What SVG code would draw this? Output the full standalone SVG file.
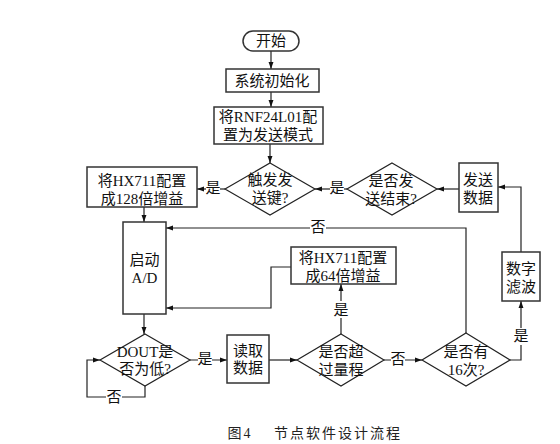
<svg xmlns="http://www.w3.org/2000/svg" width="560" height="444" viewBox="0 0 560 444">
<style>
.box{fill:#fff;stroke:#333;stroke-width:1.5}
.dia{fill:#fff;stroke:#222;stroke-width:1.2}
.ln{fill:none;stroke:#222;stroke-width:1.2}
text{font-family:"Liberation Serif","Noto Sans CJK SC",serif;font-size:15px;fill:#111;text-anchor:middle;dominant-baseline:central}
.lbl{fill:#fff;stroke:none}
.cap{font-size:14px;letter-spacing:2px;fill:#222}
</style>
<defs>
<marker id="ah" viewBox="0 0 10 10" refX="10" refY="5" markerWidth="7" markerHeight="7" markerUnits="userSpaceOnUse" orient="auto">
<path d="M0,1.5 L10,5 L0,8.5 Z" fill="#111"/>
</marker>
</defs>
<rect width="560" height="444" fill="#fff"/>
<g id="connectors">
<line class="ln" x1="271" y1="51" x2="271" y2="69" marker-end="url(#ah)"/>
<line class="ln" x1="271" y1="92" x2="271" y2="107" marker-end="url(#ah)"/>
<line class="ln" x1="270" y1="144" x2="270" y2="163" marker-end="url(#ah)"/>
<line class="ln" x1="225" y1="189" x2="197" y2="189" marker-end="url(#ah)"/>
<line class="ln" x1="347" y1="189" x2="315" y2="189" marker-end="url(#ah)"/>
<line class="ln" x1="459" y1="189" x2="437" y2="189" marker-end="url(#ah)"/>
<polyline class="ln" points="521,252 521,187 498,187" marker-end="url(#ah)"/>
<line class="ln" x1="144" y1="207" x2="144" y2="222" marker-end="url(#ah)"/>
<polyline class="ln" points="466,333 466,228 166,228" marker-end="url(#ah)"/>
<polyline class="ln" points="291,267 271,267 271,308 166,308" marker-end="url(#ah)"/>
<line class="ln" x1="144" y1="314" x2="144" y2="334" marker-end="url(#ah)"/>
<polyline class="ln" points="145,386 145,397 87,397 87,360 100,360" marker-end="url(#ah)"/>
<line class="ln" x1="190" y1="360" x2="227" y2="360" marker-end="url(#ah)"/>
<line class="ln" x1="269" y1="360" x2="297" y2="360" marker-end="url(#ah)"/>
<line class="ln" x1="384" y1="360" x2="422" y2="360" marker-end="url(#ah)"/>
<line class="ln" x1="341" y1="334" x2="341" y2="284" marker-end="url(#ah)"/>
<polyline class="ln" points="510,360 521,360 521,301" marker-end="url(#ah)"/>
<rect class="lbl" x="206" y="180" width="14" height="17"/><text x="213" y="188">是</text>
<rect class="lbl" x="330" y="180" width="14" height="17"/><text x="337" y="188">是</text>
<rect class="lbl" x="310" y="219" width="16" height="17"/><text x="318" y="227">否</text>
<rect class="lbl" x="106" y="389" width="16" height="17"/><text x="114" y="397">否</text>
<rect class="lbl" x="198" y="351" width="14" height="17"/><text x="205" y="359">是</text>
<rect class="lbl" x="391" y="351" width="14" height="17"/><text x="398" y="359">否</text>
<rect class="lbl" x="334" y="301" width="14" height="17"/><text x="341" y="310">是</text>
<rect class="lbl" x="514" y="328" width="14" height="17"/><text x="521" y="336">是</text>
</g>
<g id="start"><rect class="box" x="243" y="31" width="56" height="20" rx="10"/><text x="271" y="41">开始</text></g>
<g id="init"><rect class="box" x="226" y="69" width="93" height="23"/><text x="272" y="81">系统初始化</text></g>
<g id="rnf"><rect class="box" x="214" y="107" width="109" height="37"/><text x="268" y="117">将RNF24L01配</text><text x="268" y="135">置为发送模式</text></g>
<g id="trigger"><polygon class="dia" points="270,163 315,189 270,215 225,189"/><text x="270" y="180">触发发</text><text x="270" y="198">送键?</text></g>
<g id="gain128"><rect class="box" x="87" y="167" width="110" height="40"/><text x="142" y="181">将HX711配置</text><text x="142" y="199">成128倍增益</text></g>
<g id="sendEnd"><polygon class="dia" points="392,163 437,189 392,215 347,189"/><text x="391" y="181">是否发</text><text x="391" y="199">送结束?</text></g>
<g id="sendData"><rect class="box" x="459" y="163" width="39" height="49"/><text x="478" y="180">发送</text><text x="478" y="198">数据</text></g>
<g id="startAD"><rect class="box" x="123" y="222" width="43" height="92"/><text x="144.5" y="260">启动</text><text x="144.5" y="278">A/D</text></g>
<g id="gain64"><rect class="box" x="291" y="247" width="105" height="37"/><text x="343" y="258">将HX711配置</text><text x="343" y="276">成64倍增益</text></g>
<g id="filter"><rect class="box" x="502" y="252" width="38" height="49"/><text x="521" y="269">数字</text><text x="521" y="287">滤波</text></g>
<g id="dout"><polygon class="dia" points="145,334 190,360 145,386 100,360"/><text x="145" y="352">DOUT是</text><text x="145" y="369">否为低?</text></g>
<g id="read"><rect class="box" x="227" y="335" width="42" height="48"/><text x="248" y="351">读取</text><text x="248" y="368">数据</text></g>
<g id="overRange"><polygon class="dia" points="341,334 384,360 341,386 297,360"/><text x="341" y="352">是否超</text><text x="341" y="370">过量程</text></g>
<g id="times16"><polygon class="dia" points="466,333 510,360 466,386 422,360"/><text x="466" y="352">是否有</text><text x="466" y="370">16次?</text></g>
<text class="cap" x="240" y="433">图4</text>
<text class="cap" x="338" y="433">节点软件设计流程</text>
</svg>
